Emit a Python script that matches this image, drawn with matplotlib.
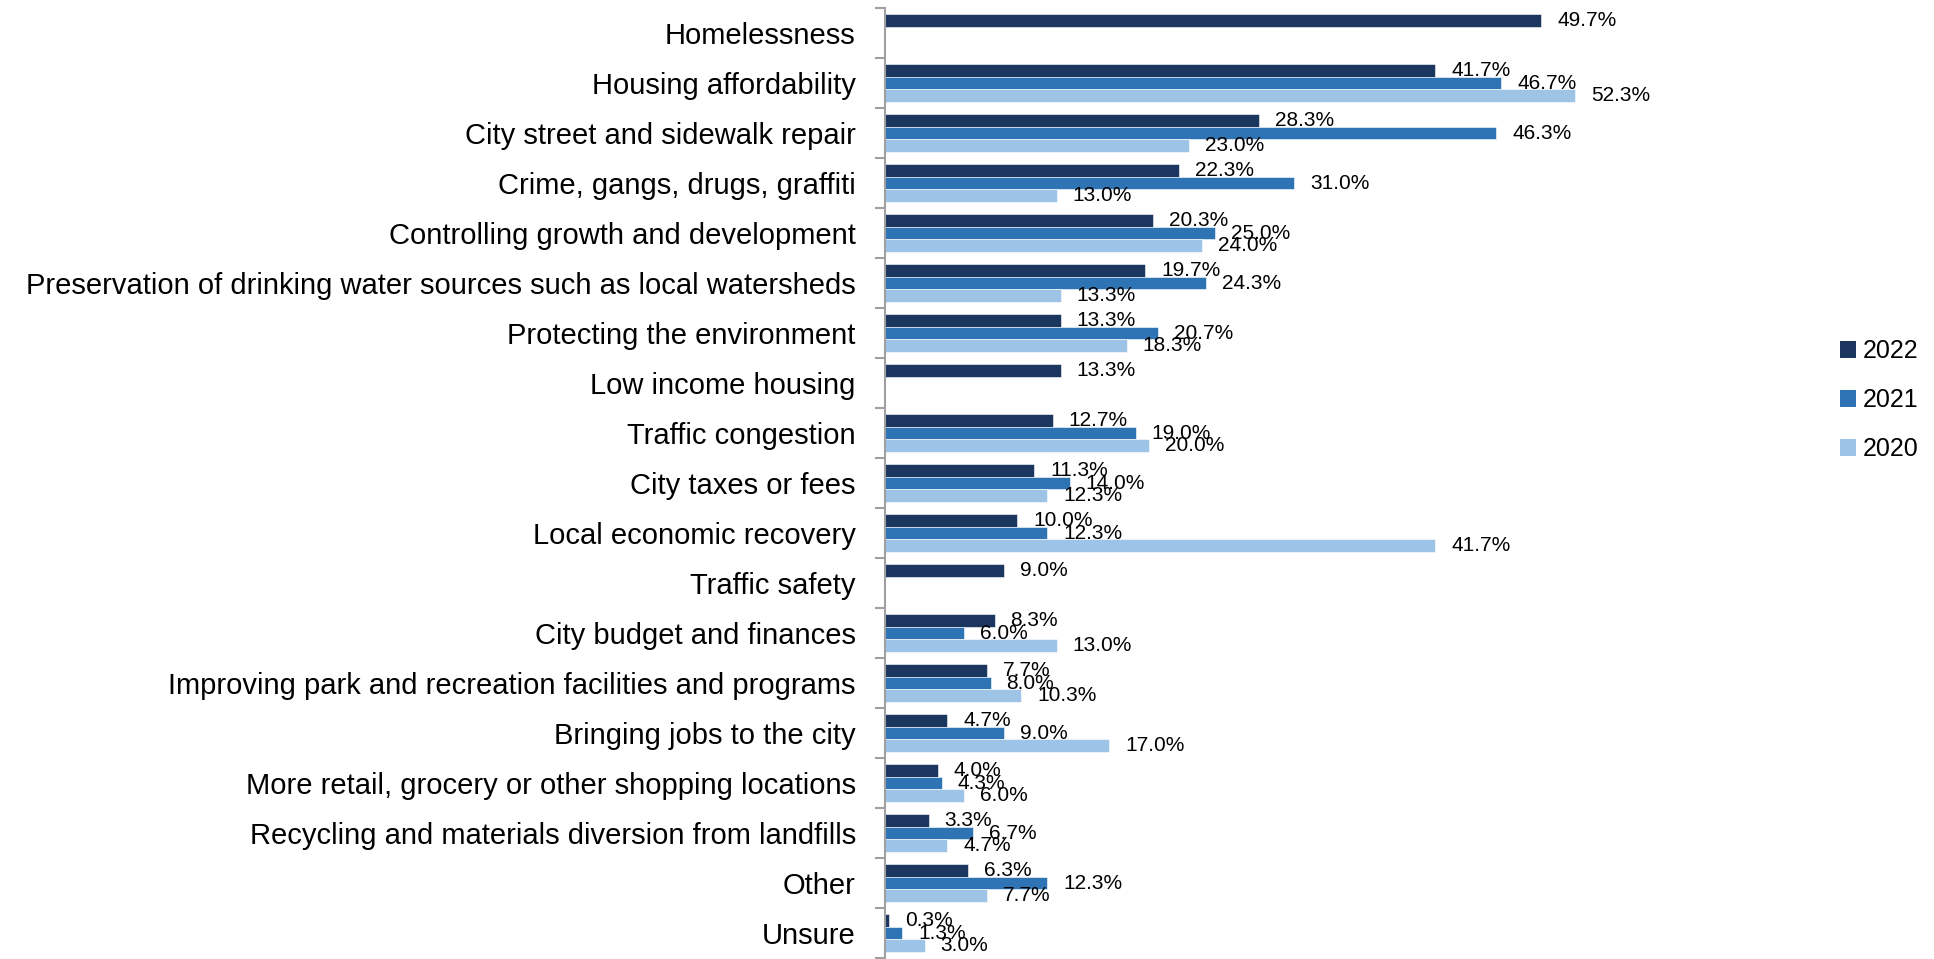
import numpy as np
import matplotlib
matplotlib.use("Agg")
import matplotlib.pyplot as plt
from matplotlib.patches import Patch

categories = [
    "Homelessness",
    "Housing affordability",
    "City street and sidewalk repair",
    "Crime, gangs, drugs, graffiti",
    "Controlling growth and development",
    "Preservation of drinking water sources such as local watersheds",
    "Protecting the environment",
    "Low income housing",
    "Traffic congestion",
    "City taxes or fees",
    "Local economic recovery",
    "Traffic safety",
    "City budget and finances",
    "Improving park and recreation facilities and programs",
    "Bringing jobs to the city",
    "More retail, grocery or other shopping locations",
    "Recycling and materials diversion from landfills",
    "Other",
    "Unsure",
]
nan = np.nan
v2022 = [49.7, 41.7, 28.3, 22.3, 20.3, 19.7, 13.3, 13.3, 12.7, 11.3, 10.0, 9.0, 8.3, 7.7, 4.7, 4.0, 3.3, 6.3, 0.3]
v2021 = [nan, 46.7, 46.3, 31.0, 25.0, 24.3, 20.7, nan, 19.0, 14.0, 12.3, nan, 6.0, 8.0, 9.0, 4.3, 6.7, 12.3, 1.3]
v2020 = [nan, 52.3, 23.0, 13.0, 24.0, 13.3, 18.3, nan, 20.0, 12.3, 41.7, nan, 13.0, 10.3, 17.0, 6.0, 4.7, 7.7, 3.0]
series_names = ["2022", "2021", "2020"]
colors = ["#1b365f", "#2e74b5", "#9dc3e6"]

plt.rcParams['font.family'] = ['Liberation Sans', 'DejaVu Sans']

fig = plt.figure(figsize=(19.34, 9.59), dpi=100)
ax = fig.add_axes([885/1934, 1 - 958/959, 792/1934, 950/959])

n = len(categories)
y = np.arange(n)
bh = 0.25
series = [v2022, v2021, v2020]
for i, (vals, c) in enumerate(zip(series, colors)):
    yy = y + (i - 1) * bh
    ax.barh(yy, vals, height=bh, color=c, edgecolor='white', linewidth=0.4)
    for yv, v in zip(yy, vals):
        if not np.isnan(v):
            ax.annotate(f"{v:.1f}%", xy=(v, yv), xytext=(11.5, 0), textcoords='offset points',
                        ha='left', va='center', fontsize=15, color='black')

ax.set_xlim(0, 60)
ax.set_ylim(n - 0.5, -0.5)
ax.set_yticks(y)
ax.set_yticklabels(categories, fontsize=21)
ax.set_yticks(np.arange(n + 1) - 0.5, minor=True)
ax.tick_params(axis='y', which='major', length=0, pad=21)
ax.tick_params(axis='y', which='minor', length=7, direction='out', color='#a0a0a0', width=1.5)
ax.set_xticks([])
for s in ['top', 'right', 'bottom']:
    ax.spines[s].set_visible(False)
ax.spines['left'].set_color('#a0a0a0')
ax.spines['left'].set_linewidth(1.5)

handles = [Patch(facecolor=c, edgecolor='none') for c in colors]
fig.legend(handles, series_names, loc='center left', bbox_to_anchor=(1840/1934, 1 - 400/959),
           frameon=False, fontsize=18, handlelength=0.65, handleheight=0.65,
           handletextpad=0.25, labelspacing=1.0, borderpad=0, borderaxespad=0)

fig.savefig("out.png", dpi=100)
